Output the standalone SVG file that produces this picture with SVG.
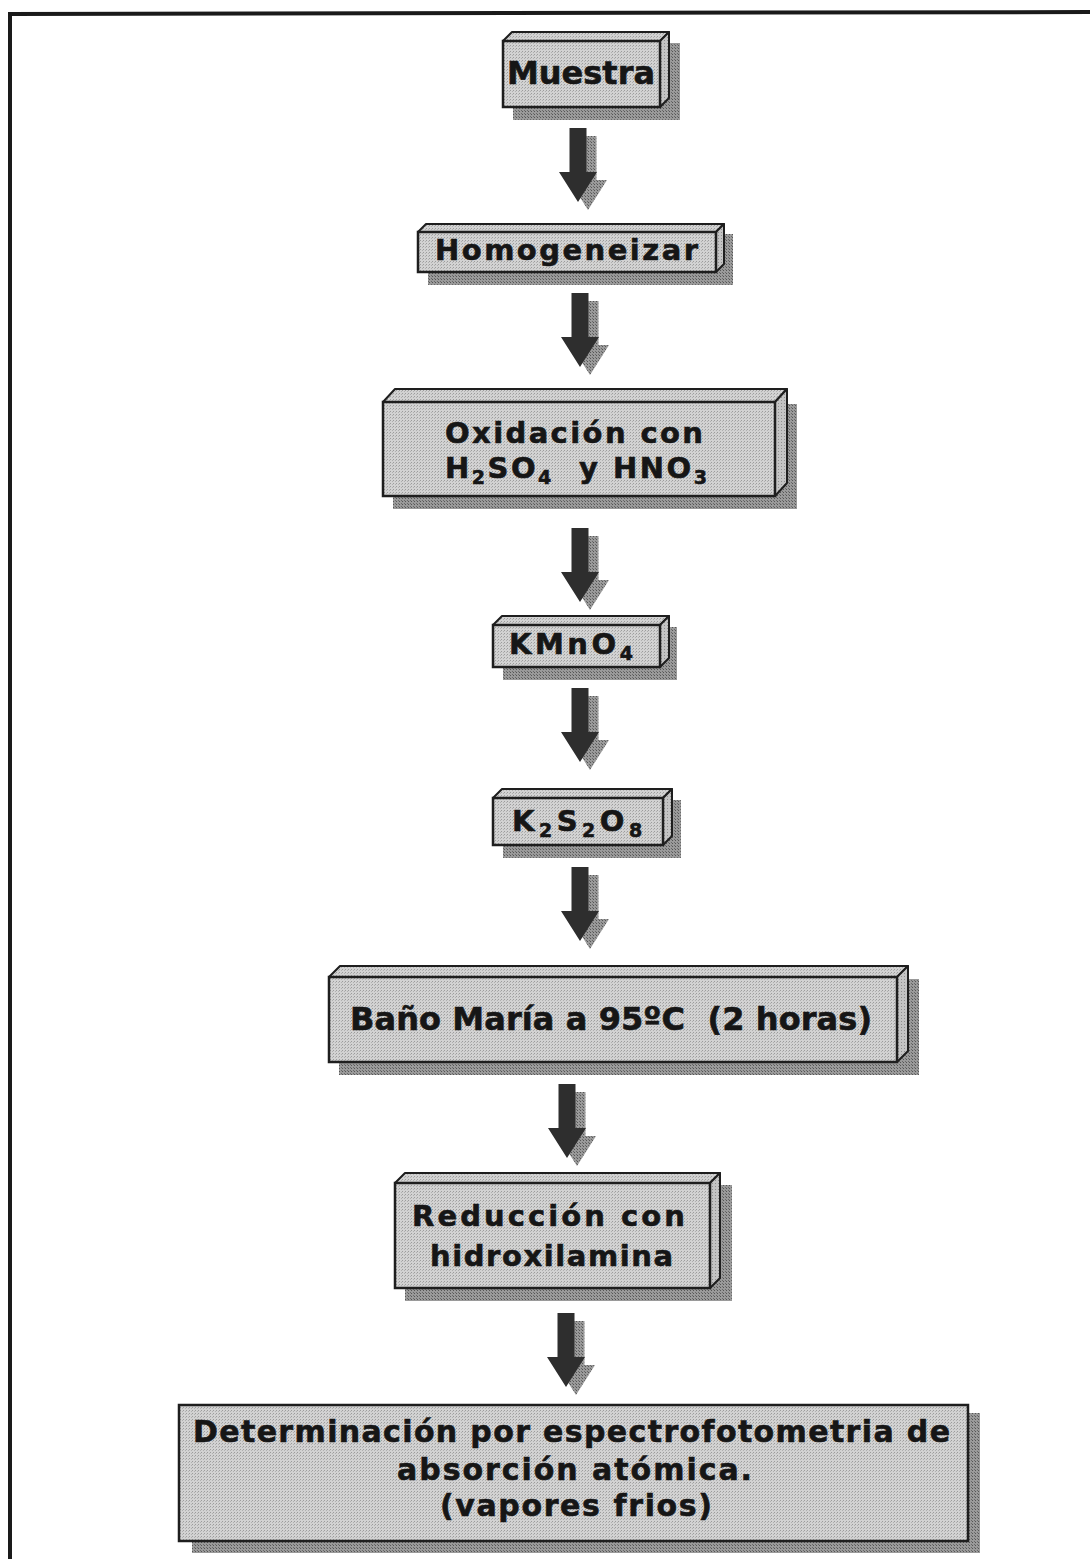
<svg xmlns="http://www.w3.org/2000/svg" xmlns:xlink="http://www.w3.org/1999/xlink" width="1090" height="1559" viewBox="0 0 1090 1559">
<defs>
<pattern id="face" width="3" height="3" patternUnits="userSpaceOnUse">
<rect width="3" height="3" fill="#d2d2d2"/>
<rect x="0" y="0" width="1" height="1" fill="#9c9c9c"/>
<rect x="2" y="1" width="1" height="1" fill="#b0b0b0"/>
</pattern>
<pattern id="side" width="3" height="3" patternUnits="userSpaceOnUse">
<rect width="3" height="3" fill="#c4c4c4"/>
<rect x="1" y="1" width="1" height="1" fill="#8e8e8e"/>
</pattern>
<pattern id="shade" width="3" height="3" patternUnits="userSpaceOnUse">
<rect width="3" height="3" fill="#9a9a9a"/>
<rect x="0" y="0" width="1" height="1" fill="#555"/>
<rect x="2" y="2" width="1" height="1" fill="#6a6a6a"/>
</pattern>
<path id="arr" d="M-8.5 0 H8.5 V44 H19 L0 74 L-19 44 H-8.5 Z"/>
</defs>
<style>
.sh{fill:url(#shade)}
.fr{fill:url(#face);stroke:#1e1e1e;stroke-width:2.5}
.tp{fill:url(#face);stroke:#1e1e1e;stroke-width:2;stroke-linejoin:round}
.sd{fill:url(#side);stroke:#1e1e1e;stroke-width:2;stroke-linejoin:round}
.t{font-family:"DejaVu Sans","Liberation Sans",Arial,sans-serif;font-weight:bold;fill:#161616;stroke:#161616;stroke-width:0.6}
.a{fill:#2e2e2e}
.as{fill:url(#shade)}
</style>
<rect width="1090" height="1559" fill="#ffffff"/>
<polyline points="10,1559 10,14 1090,12" fill="none" stroke="#1a1a1a" stroke-width="4"/>

<g id="connectors">
<use href="#arr" class="as" x="588" y="136"/><use href="#arr" class="a" x="578" y="128"/>
<use href="#arr" class="as" x="590" y="301"/><use href="#arr" class="a" x="580" y="293"/>
<use href="#arr" class="as" x="590" y="536"/><use href="#arr" class="a" x="580" y="528"/>
<use href="#arr" class="as" x="590" y="696"/><use href="#arr" class="a" x="580" y="688"/>
<use href="#arr" class="as" x="590" y="875"/><use href="#arr" class="a" x="580" y="867"/>
<use href="#arr" class="as" x="577" y="1092"/><use href="#arr" class="a" x="567" y="1084"/>
<use href="#arr" class="as" x="576" y="1321"/><use href="#arr" class="a" x="566" y="1313"/>
</g>

<g id="n1">
<rect class="sh" x="513" y="43" width="167" height="77"/>
<polygon class="tp" points="503,41 512,32 669,32 660,41"/>
<polygon class="sd" points="660,41 669,32 669,98 660,107"/>
<rect class="fr" x="503" y="41" width="157" height="66"/>
<text class="t" x="507" y="84" font-size="32" textLength="148" lengthAdjust="spacing">Muestra</text>
</g>

<g id="n2">
<rect class="sh" x="428" y="234" width="305" height="51"/>
<polygon class="tp" points="418,232 426,224 724,224 716,232"/>
<polygon class="sd" points="716,232 724,224 724,264 716,272"/>
<rect class="fr" x="418" y="232" width="298" height="40"/>
<text class="t" x="435" y="260" font-size="29" textLength="263" lengthAdjust="spacing">Homogeneizar</text>
</g>

<g id="n3">
<rect class="sh" x="393" y="404" width="404" height="105"/>
<polygon class="tp" points="383,402 395,389 787,389 775,402"/>
<polygon class="sd" points="775,402 787,389 787,483 775,496"/>
<rect class="fr" x="383" y="402" width="392" height="94"/>
<text class="t" x="445" y="443" font-size="29" textLength="258" lengthAdjust="spacing">Oxidación con</text>
<text class="t" x="445" y="478" font-size="29" letter-spacing="2.5" xml:space="preserve">H<tspan font-size="19" dy="6">2</tspan><tspan dy="-6">SO</tspan><tspan font-size="19" dy="6">4</tspan><tspan dy="-6">  y HNO</tspan><tspan font-size="19" dy="6">3</tspan></text>
</g>

<g id="n4">
<rect class="sh" x="503" y="627" width="174" height="53"/>
<polygon class="tp" points="493,625 502,616 669,616 660,625"/>
<polygon class="sd" points="660,625 669,616 669,658 660,667"/>
<rect class="fr" x="493" y="625" width="167" height="42"/>
<text class="t" x="509" y="654" font-size="29" letter-spacing="3.5">KMnO<tspan font-size="19" dy="6">4</tspan></text>
</g>

<g id="n5">
<rect class="sh" x="503" y="800" width="178" height="58"/>
<polygon class="tp" points="493,798 502,789 672,789 663,798"/>
<polygon class="sd" points="663,798 672,789 672,836 663,845"/>
<rect class="fr" x="493" y="798" width="170" height="47"/>
<text class="t" x="512" y="831" font-size="29" letter-spacing="4.5">K<tspan font-size="19" dy="6">2</tspan><tspan dy="-6">S</tspan><tspan font-size="19" dy="6">2</tspan><tspan dy="-6">O</tspan><tspan font-size="19" dy="6">8</tspan></text>
</g>

<g id="n6">
<rect class="sh" x="339" y="979" width="580" height="96"/>
<polygon class="tp" points="329,977 340,966 908,966 897,977"/>
<polygon class="sd" points="897,977 908,966 908,1051 897,1062"/>
<rect class="fr" x="329" y="977" width="568" height="85"/>
<text class="t" x="350" y="1030" font-size="32" textLength="522" lengthAdjust="spacing" xml:space="preserve">Baño María a 95ºC  (2 horas)</text>
</g>

<g id="n7">
<rect class="sh" x="405" y="1185" width="327" height="116"/>
<polygon class="tp" points="395,1183 405,1173 720,1173 710,1183"/>
<polygon class="sd" points="710,1183 720,1173 720,1278 710,1288"/>
<rect class="fr" x="395" y="1183" width="315" height="105"/>
<text class="t" x="412" y="1226" font-size="29" textLength="273" lengthAdjust="spacing">Reducción con</text>
<text class="t" x="430" y="1266" font-size="29" textLength="243" lengthAdjust="spacing">hidroxilamina</text>
</g>

<g id="n8">
<rect class="sh" x="192" y="1413" width="788" height="140"/>
<rect class="fr" x="179" y="1405" width="789" height="136"/>
<text class="t" x="193" y="1442" font-size="30" textLength="757" lengthAdjust="spacing">Determinación por espectrofotometria de</text>
<text class="t" x="397" y="1480" font-size="30" textLength="355" lengthAdjust="spacing">absorción atómica.</text>
<text class="t" x="440" y="1516" font-size="30" textLength="272" lengthAdjust="spacing">(vapores frios)</text>
</g>
</svg>
